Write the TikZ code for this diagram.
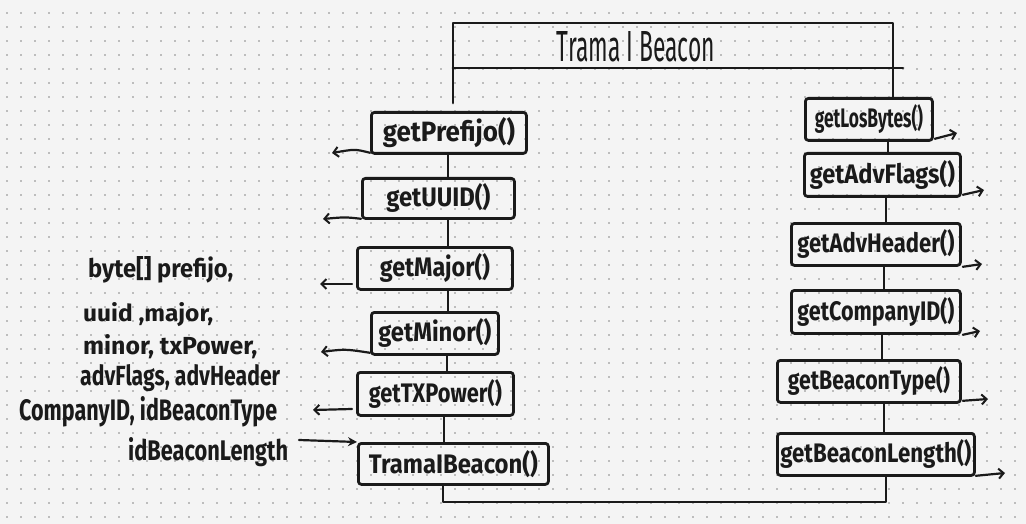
\documentclass[tikz,border=0pt]{standalone}
\usepackage{fontspec}
\usepackage{graphicx}
\setmainfont{Fira Sans}
\usetikzlibrary{arrows.meta}
\definecolor{paper}{HTML}{F4F4F4}
\definecolor{dotc}{HTML}{BDBDBD}
\definecolor{ink}{HTML}{1A1A1A}
\newcommand{\hwtext}[3]{\resizebox{#1pt}{#2pt}{\bfseries #3}}
\newcommand{\hwthin}[3]{\resizebox{#1pt}{#2pt}{#3}}
\tikzset{
  ln/.style={draw=ink, line width=2.8pt, line cap=round, line join=round},
  mbox/.style={ln, rounded corners=3pt, inner sep=0pt, anchor=north west, text=ink},
  outarr/.style={draw=ink, line width=2.2pt, line cap=round, -{Straight Barb[length=5pt,width=10pt,line width=2pt]}},
  inarr/.style={draw=ink, line width=2.2pt, line cap=round, -{Stealth[length=9pt,width=9pt]}},
  lbl/.style={inner sep=0pt, text=ink, anchor=west}
}
\begin{document}
\begin{tikzpicture}[x=1pt,y=-1pt]
\useasboundingbox (0,0) rectangle (1026,524);
\fill[paper] (0,0) rectangle (1026,524);
\foreach \i in {0,...,73}{\foreach \j in {0,...,36}{
  \fill[dotc] ({5.7+14*\i},{11.7+14*\j}) rectangle ++(2,2);}}

% title frame
\coordinate (tl) at (453,23);
\coordinate (tr) at (893,23);
\coordinate (ml) at (453,68);
\coordinate (mr) at (903,68);
\coordinate (lend) at (453,103);
\node[inner sep=0pt,text=ink] (title) at (636,47) {\hwthin{158}{30}{\fontseries{m}\selectfont Trama I Beacon}};

% left column boxes
\node[mbox, minimum width=155pt, minimum height=41pt] (prefijo) at (370,111) {\hwtext{132}{24}{getPrefijo()}};
\node[mbox, minimum width=152pt, minimum height=40pt] (uuid) at (361,177) {\hwtext{104}{23}{getUUID()}};
\node[mbox, minimum width=155pt, minimum height=42pt] (major) at (356,246) {\hwtext{110}{23}{getMajor()}};
\node[mbox, minimum width=127pt, minimum height=42pt] (minor) at (370,311) {\hwtext{113}{23}{getMinor()}};
\node[mbox, minimum width=156pt, minimum height=43pt] (txpower) at (356,371) {\hwtext{133}{23}{getTXPower()}};
\node[mbox, minimum width=190pt, minimum height=41pt] (ctor) at (357,442) {\hwtext{169}{23}{TramaIBeacon()}};

% right column boxes
\node[mbox, minimum width=127pt, minimum height=42pt] (losbytes) at (804,97) {\hwtext{108}{23}{getLosBytes()}};
\node[mbox, minimum width=156pt, minimum height=43pt] (advflags) at (803,152) {\hwtext{145}{23}{getAdvFlags()}};
\node[mbox, minimum width=169pt, minimum height=42pt] (advheader) at (790,222) {\hwtext{157}{23}{getAdvHeader()}};
\node[mbox, minimum width=169pt, minimum height=43pt] (company) at (790,289) {\hwtext{157}{23}{getCompanyID()}};
\node[mbox, minimum width=183pt, minimum height=42pt] (btype) at (776,359) {\hwtext{162}{23}{getBeaconType()}};
\node[mbox, minimum width=197pt, minimum height=42pt] (blength) at (776,432) {\hwtext{191}{23}{getBeaconLength()}};

% title frame lines
\draw[ln] (lend) -- (tl) -- (tr) -- (losbytes.north -| tr);
\draw[ln] (ml) -- (mr);

% left connectors
\draw[ln] (prefijo.south -| 448,0) -- (uuid.north -| 448,0);
\draw[ln] (uuid.south -| 448,0) -- (major.north -| 448,0);
\draw[ln] (major.south -| 448,0) -- (minor.north -| 448,0);
\draw[ln] (minor.south -| 447,0) -- (txpower.north -| 447,0);
\draw[ln] (txpower.south -| 444,0) -- (ctor.north -| 444,0);

% right connectors
\draw[ln] (losbytes.south -| 888,0) -- (advflags.north -| 888,0);
\draw[ln] (advflags.south -| 886,0) -- (advheader.north -| 886,0);
\draw[ln] (advheader.south -| 884,0) -- (company.north -| 884,0);
\draw[ln] (company.south -| 882,0) -- (btype.north -| 882,0);
\draw[ln] (btype.south -| 884,0) -- (blength.north -| 884,0);

% bottom loop
\coordinate (bl) at (443,502);
\coordinate (br) at (886,502);
\draw[ln] (ctor.south -| bl) -- (bl) -- (br) -- (blength.south -| br);

% left outgoing arrows
\coordinate (a1) at (332,153);
\coordinate (a2) at (323,219);
\coordinate (a3s) at (352,284);
\coordinate (a3) at (320,284);
\coordinate (a4) at (321,352);
\coordinate (a5s) at (352,409);
\coordinate (a5) at (313,410);
\draw[outarr] (prefijo.south west) ++(0,-2) .. controls (355,149) .. (a1);
\draw[outarr] (uuid.south west) ++(0,-1) .. controls (345,217) .. (a2);
\draw[outarr] (a3s) -- (a3);
\draw[outarr] (minor.south west) ++(0,-3) .. controls (345,349) .. (a4);
\draw[outarr] (a5s) -- (a5);

% right outgoing arrows
\coordinate (b1) at (957,133);
\coordinate (b2) at (984,190);
\coordinate (b3) at (982,264);
\coordinate (b4) at (980,331);
\coordinate (b5) at (988,399);
\coordinate (b6) at (1005,473);
\draw[outarr] (losbytes.south east) ++(1,-3) -- (b1);
\draw[outarr] (advflags.south east) ++(1,-3) -- (b2);
\draw[outarr] (advheader.south east) ++(1,0) -- (b3);
\draw[outarr] (company.south east) ++(1,0) -- (b4);
\draw[outarr] (btype.south east) ++(1,-3) -- (b5);
\draw[outarr] (blength.south east) ++(0,-1) -- (b6);

% parameter text
\node[lbl] (t1) at (88,270) {\hwtext{145}{21}{byte[] prefijo,}};
\node[lbl] (t2) at (83,315) {\hwtext{130}{19}{uuid ,major,}};
\node[lbl] (t3) at (83,347) {\hwtext{174}{20}{minor, txPower,}};
\node[lbl] (t4) at (80,378) {\hwtext{200}{21}{advFlags, advHeader}};
\node[lbl] (t5) at (19,412) {\hwtext{258}{24}{CompanyID, idBeaconType}};
\node[lbl] (t6) at (128,452) {\hwtext{160}{23}{idBeaconLength}};
\coordinate (in) at (299,440);
\draw[inarr] (in) -- (ctor.north west |- 0,442);
\end{tikzpicture}
\end{document}
